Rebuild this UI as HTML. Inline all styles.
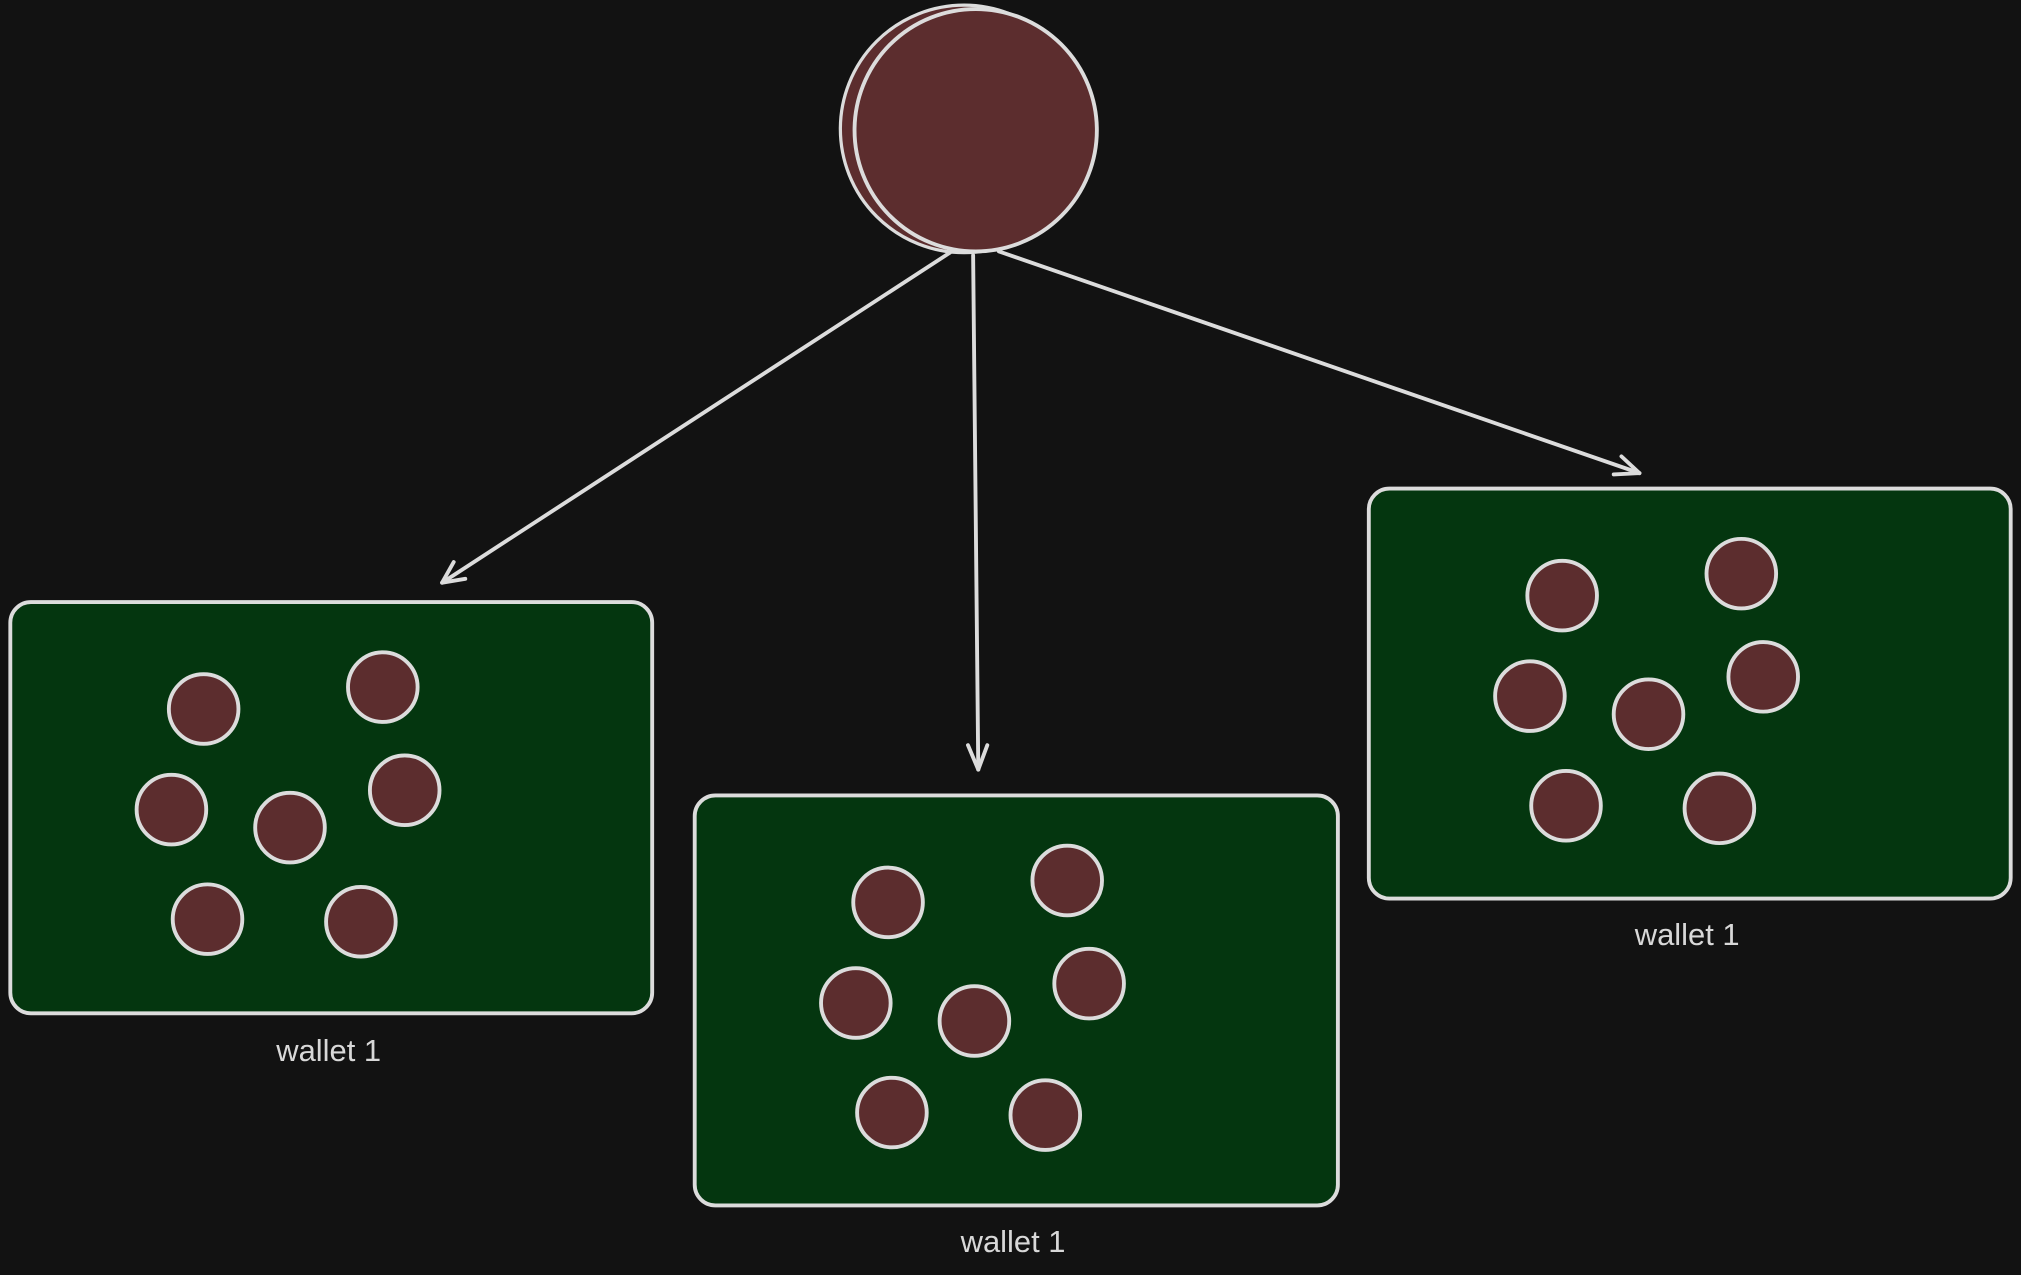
<!DOCTYPE html>
<html><head><meta charset="utf-8"><style>
html,body{margin:0;padding:0;background:#121212;}
svg{display:block;}
text{font-family:"Liberation Sans",sans-serif;fill:#d8d8d8;font-size:24px;}
</style></head><body>
<svg width="2021" height="1275" viewBox="0 0 1568 989" preserveAspectRatio="none" xmlns="http://www.w3.org/2000/svg">
<defs>
<g id="dots" fill="#5c2d2e" stroke="#dcdcdc" stroke-width="3">
<circle cx="150" cy="83" r="27"/>
<circle cx="289" cy="66" r="27"/>
<circle cx="125" cy="161" r="27"/>
<circle cx="306" cy="146" r="27"/>
<circle cx="217" cy="175" r="27"/>
<circle cx="153" cy="246" r="27"/>
<circle cx="272" cy="248" r="27"/>
</g>
</defs>
<rect width="1568" height="989" fill="#121212"/>
<!-- big circle -->
<circle cx="748" cy="100" r="96" fill="#5c2d2e" stroke="#dcdcdc" stroke-width="2.5"/>
<circle cx="757" cy="101" r="94" fill="#5c2d2e" stroke="#dcdcdc" stroke-width="3"/>
<!-- arrows -->
<g stroke="#dcdcdc" stroke-width="3" fill="none" stroke-linecap="round">
<path d="M737 196 L343 452"/>
<path d="M343 452 L352 436 M343 452 L361 449"/>
<path d="M755 198 L759 597"/>
<path d="M759 597 L751 578 M759 597 L766 578"/>
<path d="M775 195 L1272 367"/>
<path d="M1272 367 L1258 354 M1272 367 L1252 368"/>
</g>
<!-- boxes -->
<g fill="#04360f" stroke="#dcdcdc" stroke-width="3">
<rect x="8" y="467" width="498" height="319" rx="16"/>
<rect x="539" y="617" width="499" height="318" rx="16"/>
<rect x="1062" y="379" width="498" height="318" rx="16"/>
</g>
<use href="#dots" x="8" y="467"/>
<use href="#dots" x="539" y="617"/>
<use href="#dots" x="1062" y="379"/>
<text x="255" y="823" text-anchor="middle">wallet 1</text>
<text x="786" y="971" text-anchor="middle">wallet 1</text>
<text x="1309" y="733" text-anchor="middle">wallet 1</text>
</svg>
</body></html>
